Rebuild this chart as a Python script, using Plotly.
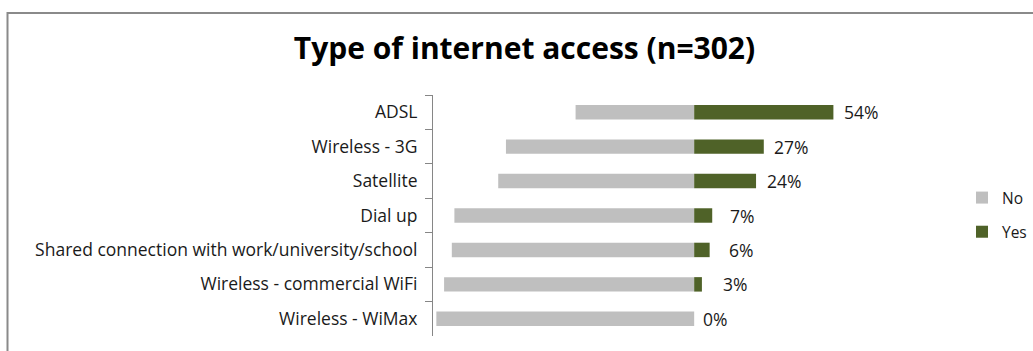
import plotly.graph_objects as go

# Survey results: type of internet access (n=302), share of respondents
categories = [
    "ADSL",
    "Wireless - 3G",
    "Satellite",
    "Dial up",
    "Shared connection with work/university/school",
    "Wireless - commercial WiFi",
    "Wireless - WiMax",
]
yes_pct = [54, 27, 24, 7, 6, 3, 0]
no_pct = [46, 73, 76, 93, 94, 97, 100]

# extra horizontal nudge (px) for each value label
label_nudge = [9, 8, 9, 16, 17, 19, 7]

W, H = 1033, 351
M_L, M_R, M_T, M_B = 433, 81, 95, 15
PW = W - M_L - M_R
PH = H - M_T - M_B


def px_x(px):
    return (px - M_L) / PW


def px_y(py):
    return 1 - (py - M_T) / PH


FONT = "'Open Sans', Lato, sans-serif"
GREY = "#BFBFBF"
GREEN = "#4F6228"

fig = go.Figure()
fig.add_trace(go.Bar(
    y=categories, x=[-v for v in no_pct], orientation="h", name="No",
    marker=dict(color=GREY, line=dict(width=0)), legendgroup="no",
    hoverinfo="skip",
))
fig.add_trace(go.Bar(
    y=categories, x=yes_pct, orientation="h", name="Yes",
    marker=dict(color=GREEN, line=dict(width=0)), legendgroup="yes",
    hoverinfo="skip",
))

for cat, v, dx in zip(categories, yes_pct, label_nudge):
    fig.add_annotation(
        x=v, y=cat, xref="x", yref="y", text=f"{v}%", showarrow=False,
        xanchor="left", yanchor="middle", xshift=dx,
        font=dict(family=FONT, size=17.5, color="#1a1a1a"),
    )

# outer chart frame
fig.add_shape(
    type="rect", xref="paper", yref="paper",
    x0=px_x(7.5), x1=px_x(W + 10), y0=px_y(13), y1=px_y(H + 10),
    line=dict(color="#8a8a8a", width=2), fillcolor="rgba(0,0,0,0)",
    layer="below",
)

fig.update_layout(
    width=W, height=H,
    margin=dict(l=M_L, r=M_R, t=M_T, b=M_B, pad=0, autoexpand=False),
    paper_bgcolor="white", plot_bgcolor="white",
    barmode="relative", bargap=0.58,
    title=dict(
        text="<b>Type of internet access (n=302)</b>",
        x=524.5 / W, xanchor="center", xref="container",
        y=1 - 48 / H, yanchor="middle", yref="container",
        font=dict(family=FONT, size=30, color="#000000"),
    ),
    xaxis=dict(
        range=[-101.3, 100], showgrid=False, zeroline=False,
        showticklabels=False, showline=False, ticks="",
        fixedrange=True,
    ),
    yaxis=dict(
        categoryorder="array", categoryarray=categories,
        autorange="reversed", showgrid=False, zeroline=False,
        showline=True, linecolor="#868686", linewidth=1,
        ticks="outside", tickson="boundaries", ticklen=7,
        tickcolor="#868686", tickwidth=1, ticklabelstandoff=11,
        tickfont=dict(family=FONT, size=17.5, color="#1a1a1a"),
        fixedrange=True,
    ),
    legend=dict(
        x=px_x(962), xanchor="left", y=px_y(181), yanchor="top",
        traceorder="grouped", tracegroupgap=11,
        font=dict(family=FONT, size=15.5, color="#1a1a1a"),
        bgcolor="rgba(0,0,0,0)",
    ),
    showlegend=True,
)

fig.write_html("out.html")
